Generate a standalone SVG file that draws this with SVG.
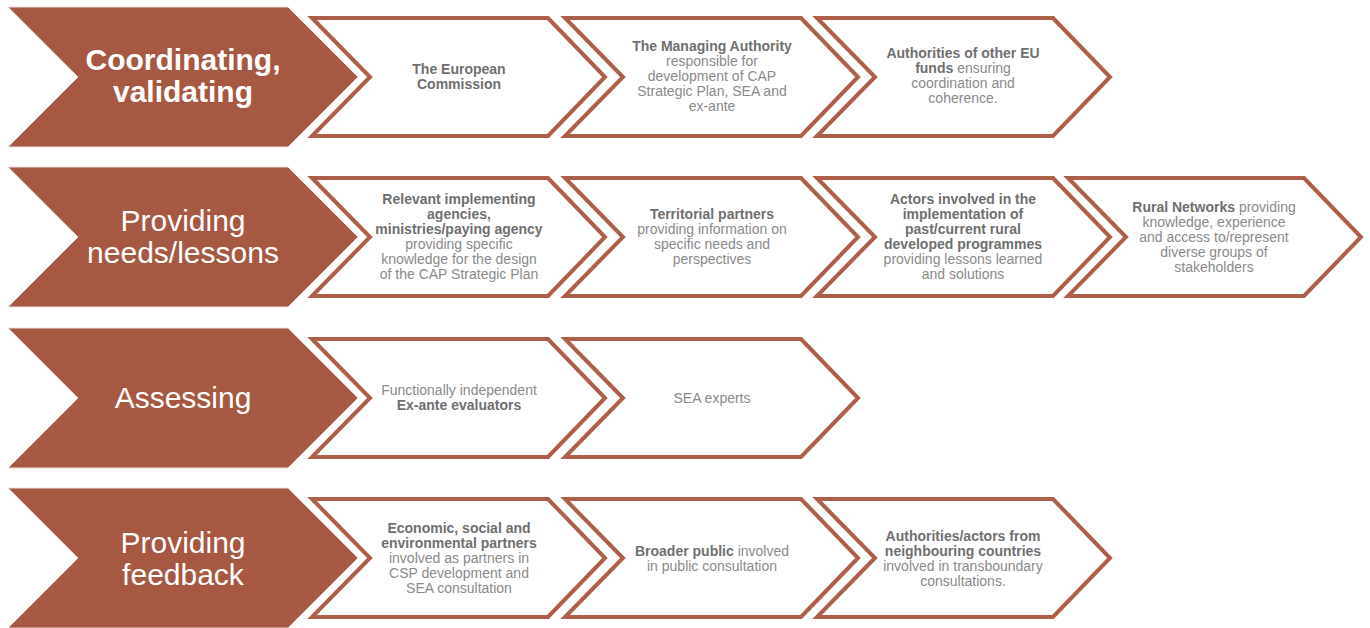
<svg xmlns="http://www.w3.org/2000/svg" xmlns:xlink="http://www.w3.org/1999/xlink" width="1370" height="628" viewBox="0 0 1370 628">
<style>
.big{fill:#A65843;stroke:#e8e0dd;stroke-width:1}
.wc{fill:#fff;stroke:#AE5F4A;stroke-width:4;stroke-linejoin:miter}
.lbl{font-family:"Liberation Sans",Arial,sans-serif;font-size:30px;fill:#fff;text-anchor:middle}
.b{font-weight:bold}
.t{font-family:"Liberation Sans",Arial,sans-serif;font-size:14px;fill:#8a8a8a;text-anchor:middle}
.t .k,.k{font-weight:bold;fill:#6f6f6f}
</style>
<defs>
<path id="bigc" d="M8,-70 H288 L358,0 L288,70 H8 L78,0 Z"/>
<path id="whc" d="M2,-59 H238 L295,0 L238,59 H2 L60,0 Z"/>
</defs>
<rect width="1370" height="628" fill="#fff"/>

<!-- Row 1 -->
<g id="row1-head"><use xlink:href="#bigc" class="big" y="77"/>
<text class="lbl b" x="183" y="70">Coordinating,</text><text class="lbl b" x="183" y="102">validating</text></g>
<g id="r1c1"><use xlink:href="#whc" class="wc" x="310" y="77"/>
<text class="t"><tspan class="k" x="459" y="74">The European</tspan><tspan class="k" x="459" y="89">Commission</tspan></text></g>
<g id="r1c2"><use xlink:href="#whc" class="wc" x="563" y="77"/>
<text class="t"><tspan class="k" x="712" y="51">The Managing Authority</tspan><tspan x="712" y="66">responsible for</tspan><tspan x="712" y="81">development of CAP</tspan><tspan x="712" y="96">Strategic Plan, SEA and</tspan><tspan x="712" y="111">ex-ante</tspan></text></g>
<g id="r1c3"><use xlink:href="#whc" class="wc" x="815" y="77"/>
<text class="t"><tspan class="k" x="963" y="58">Authorities of other EU</tspan><tspan x="963" y="73"><tspan class="k">funds</tspan> ensuring</tspan><tspan x="963" y="88">coordination and</tspan><tspan x="963" y="103">coherence.</tspan></text></g>

<!-- Row 2 -->
<g id="row2-head"><use xlink:href="#bigc" class="big" y="237"/>
<text class="lbl" x="183" y="231">Providing</text><text class="lbl" x="183" y="263">needs/lessons</text></g>
<g id="r2c1"><use xlink:href="#whc" class="wc" x="310" y="237"/>
<text class="t"><tspan class="k" x="459" y="204">Relevant implementing</tspan><tspan class="k" x="459" y="219">agencies,</tspan><tspan class="k" x="459" y="234">ministries/paying agency</tspan><tspan x="459" y="249">providing specific</tspan><tspan x="459" y="264">knowledge for the design</tspan><tspan x="459" y="279">of the CAP Strategic Plan</tspan></text></g>
<g id="r2c2"><use xlink:href="#whc" class="wc" x="563" y="237"/>
<text class="t"><tspan class="k" x="712" y="219">Territorial partners</tspan><tspan x="712" y="234">providing information on</tspan><tspan x="712" y="249">specific needs and</tspan><tspan x="712" y="264">perspectives</tspan></text></g>
<g id="r2c3"><use xlink:href="#whc" class="wc" x="815" y="237"/>
<text class="t"><tspan class="k" x="963" y="204">Actors involved in the</tspan><tspan class="k" x="963" y="219">implementation of</tspan><tspan class="k" x="963" y="234">past/current rural</tspan><tspan class="k" x="963" y="249">developed programmes</tspan><tspan x="963" y="264">providing lessons learned</tspan><tspan x="963" y="279">and solutions</tspan></text></g>
<g id="r2c4"><use xlink:href="#whc" class="wc" x="1066" y="237"/>
<text class="t"><tspan x="1214" y="212"><tspan class="k">Rural Networks</tspan> providing</tspan><tspan x="1214" y="227">knowledge, experience</tspan><tspan x="1214" y="242">and access to/represent</tspan><tspan x="1214" y="257">diverse groups of</tspan><tspan x="1214" y="272">stakeholders</tspan></text></g>

<!-- Row 3 -->
<g id="row3-head"><use xlink:href="#bigc" class="big" y="398"/>
<text class="lbl" x="183" y="408">Assessing</text></g>
<g id="r3c1"><use xlink:href="#whc" class="wc" x="310" y="398"/>
<text class="t"><tspan x="459" y="395">Functionally independent</tspan><tspan class="k" x="459" y="410">Ex-ante evaluators</tspan></text></g>
<g id="r3c2"><use xlink:href="#whc" class="wc" x="563" y="398"/>
<text class="t"><tspan x="712" y="403">SEA experts</tspan></text></g>

<!-- Row 4 -->
<g id="row4-head"><use xlink:href="#bigc" class="big" y="558"/>
<text class="lbl" x="183" y="553">Providing</text><text class="lbl" x="183" y="585">feedback</text></g>
<g id="r4c1"><use xlink:href="#whc" class="wc" x="310" y="558"/>
<text class="t"><tspan class="k" x="459" y="533">Economic, social and</tspan><tspan class="k" x="459" y="548">environmental partners</tspan><tspan x="459" y="563">involved as partners in</tspan><tspan x="459" y="578">CSP development and</tspan><tspan x="459" y="593">SEA consultation</tspan></text></g>
<g id="r4c2"><use xlink:href="#whc" class="wc" x="563" y="558"/>
<text class="t"><tspan x="712" y="556"><tspan class="k">Broader public</tspan> involved</tspan><tspan x="712" y="571">in public consultation</tspan></text></g>
<g id="r4c3"><use xlink:href="#whc" class="wc" x="815" y="558"/>
<text class="t"><tspan class="k" x="963" y="541">Authorities/actors from</tspan><tspan class="k" x="963" y="556">neighbouring countries</tspan><tspan x="963" y="571">involved in transboundary</tspan><tspan x="963" y="586">consultations.</tspan></text></g>
</svg>
